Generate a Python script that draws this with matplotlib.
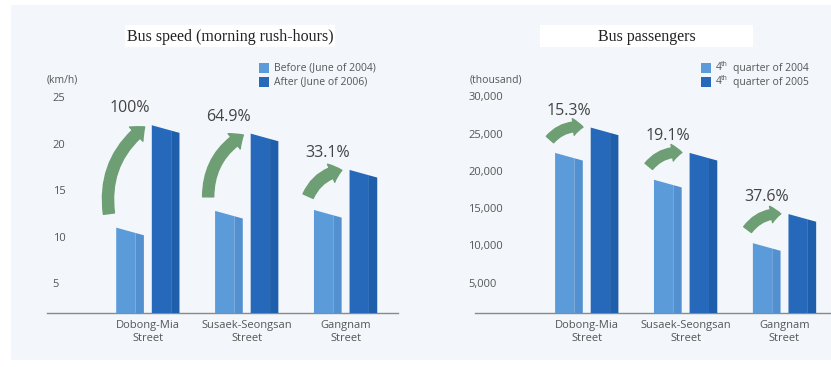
import matplotlib
matplotlib.use('Agg')
import matplotlib.pyplot as plt
from matplotlib.patches import Polygon, Rectangle, FancyArrowPatch

# Data
streets = ["Dobong-Mia\nStreet", "Susaek-Seongsan\nStreet", "Gangnam\nStreet"]

speed_before = [11.0, 12.8, 12.9]
speed_after = [22.0, 21.1, 17.2]
speed_pct = ["100%", "64.9%", "33.1%"]
speed_ticks = [5, 10, 15, 20, 25]
speed_ticklabels = ["5", "10", "15", "20", "25"]
speed_legend = [("", "", "Before (June of 2004)"), ("", "", "After (June of 2006)")]

pass_before = [22400, 18800, 10300]
pass_after = [25800, 22400, 14200]
pass_pct = ["15.3%", "19.1%", "37.6%"]
pass_ticks = [5000, 10000, 15000, 20000, 25000, 30000]
pass_ticklabels = ["5,000", "10,000", "15,000", "20,000", "25,000", "30,000"]
pass_legend = [("4", "th", "quarter of 2004"), ("4", "th", "quarter of 2005")]

W, H = 831, 367
fig = plt.figure(figsize=(W / 100, H / 100), dpi=100)
fig.patch.set_facecolor('white')

# light panel behind everything
fig.patches.append(Rectangle((11 / W, 1 - 360 / H), (W - 11) / W, 355 / H,
                             transform=fig.transFigure, facecolor='#f3f7fb',
                             edgecolor='none', zorder=-10))

LIGHT = '#5c9bda'
LIGHT_SIDE = '#5290d0'
DARK = '#2668ba'
DARK_SIDE = '#1f5eaa'
GREEN = '#6e9e74'
TXT = '#555555'


def draw_panel(rect, ylim, xlim, before, after, pct, ticks, ticklabels, tick_pad,
               unit, title, title_box, legend, leg_x, arrow_style):
    ax = fig.add_axes(rect)
    ax.set_facecolor('none')
    ax.set_xlim(*xlim)
    ax.set_ylim(*ylim)
    for s in ['top', 'right', 'left']:
        ax.spines[s].set_visible(False)
    ax.spines['bottom'].set_color('#8a8a8a')
    ax.spines['bottom'].set_linewidth(1.0)

    ax.set_yticks(ticks)
    ax.set_yticklabels(ticklabels)
    ax.tick_params(axis='y', length=0, pad=tick_pad, labelsize=8, labelcolor=TXT)
    for lab in ax.get_yticklabels():
        lab.set_ha('left')
        lab.set_fontfamily('Open Sans')

    ax.set_xticks(range(len(streets)))
    ax.set_xticklabels(streets, fontsize=8, color=TXT, family='Open Sans',
                       linespacing=1.2)
    ax.tick_params(axis='x', length=0, pad=5)

    span = ylim[1] - ylim[0]
    slant = 0.034 * span
    w, gap = 0.28, 0.04
    for i, (b, a) in enumerate(zip(before, after)):
        for x0, v, face, side in [(i - gap - w, b, LIGHT, LIGHT_SIDE),
                                  (i + gap, a, DARK, DARK_SIDE)]:
            x1 = x0 + w
            xm = x0 + w * 0.7
            ym = v - slant * 0.7
            ax.add_patch(Polygon([(x0, ylim[0]), (x0, v), (xm, ym), (xm, ylim[0])],
                                 closed=True, facecolor=face, edgecolor='none', zorder=3))
            ax.add_patch(Polygon([(xm, ylim[0]), (xm, ym), (x1, v - slant), (x1, ylim[0])],
                                 closed=True, facecolor=side, edgecolor='none', zorder=3))

        # curved growth arrow from the earlier bar to the later one
        tail = (i - gap - w - 0.07, b + 0.05 * span)
        tip = (i + gap - 0.05, a)
        ax.add_patch(FancyArrowPatch(tail, tip, connectionstyle='arc3,rad=-0.3',
                                     arrowstyle=arrow_style,
                                     color=GREEN, zorder=4, mutation_scale=1))
        ax.annotate(pct[i], (i + gap, a), xytext=(-22, 9), textcoords='offset pixels',
                    ha='center', va='bottom', fontsize=11.5, color='#444444',
                    family='Open Sans', zorder=5)

    # unit label above the tick column
    ax.annotate(unit, (0, 1), xycoords='axes fraction', xytext=(-max(tick_pad, 0), 3),
                textcoords='offset pixels', fontsize=7.5, color=TXT,
                family='Open Sans', ha='left', va='bottom')

    # title on a white strip
    bx0, bx1 = title_box
    fig.patches.append(Rectangle((bx0 / W, 1 - 47 / H), (bx1 - bx0) / W, 22 / H,
                                 transform=fig.transFigure, facecolor='white',
                                 edgecolor='none', zorder=-5))
    fig.text((bx0 + bx1) / 2 / W, 1 - 37 / H, title, ha='center', va='center',
             fontsize=11.5, family='Liberation Serif', color='#222222', zorder=2)

    # legend: optional ordinal number with a raised suffix, then the label
    for k, ((num, sup, lab), col) in enumerate(zip(legend, [LIGHT, DARK])):
        yy = 1 - (68 + 14 * k) / H
        fig.patches.append(Rectangle(((leg_x) / W, yy - 5 / H), 10 / W, 10 / H,
                                     transform=fig.transFigure, facecolor=col,
                                     edgecolor='none', zorder=2))
        tx = leg_x + 15
        if num:
            fig.text(tx / W, yy, num, ha='left', va='center', fontsize=7.5,
                     color=TXT, family='Open Sans')
            fig.text((tx + 5) / W, yy + 3 / H, sup, ha='left', va='center',
                     fontsize=5, color=TXT, family='Open Sans')
            tx += 17
        fig.text(tx / W, yy, lab, ha='left', va='center', fontsize=7.5,
                 color=TXT, family='Open Sans')
    return ax


draw_panel([47 / W, (H - 313) / H, 351 / W, 225 / H], (1.83, 26.0), (-1.02, 2.53),
           speed_before, speed_after, speed_pct, speed_ticks, speed_ticklabels, -4,
           "(km/h)", "Bus speed (morning rush-hours)", (125, 335),
           speed_legend, 259,
           'simple,head_length=8,head_width=14,tail_width=8')

draw_panel([475 / W, (H - 313) / H, 356 / W, 225 / H], (940, 31100), (-1.13, 2.47),
           pass_before, pass_after, pass_pct, pass_ticks, pass_ticklabels, 5,
           "(thousand)", "Bus passengers", (540, 753),
           pass_legend, 701,
           'simple,head_length=7,head_width=12,tail_width=7')

fig.savefig('out.png', dpi=100, facecolor=fig.get_facecolor())
